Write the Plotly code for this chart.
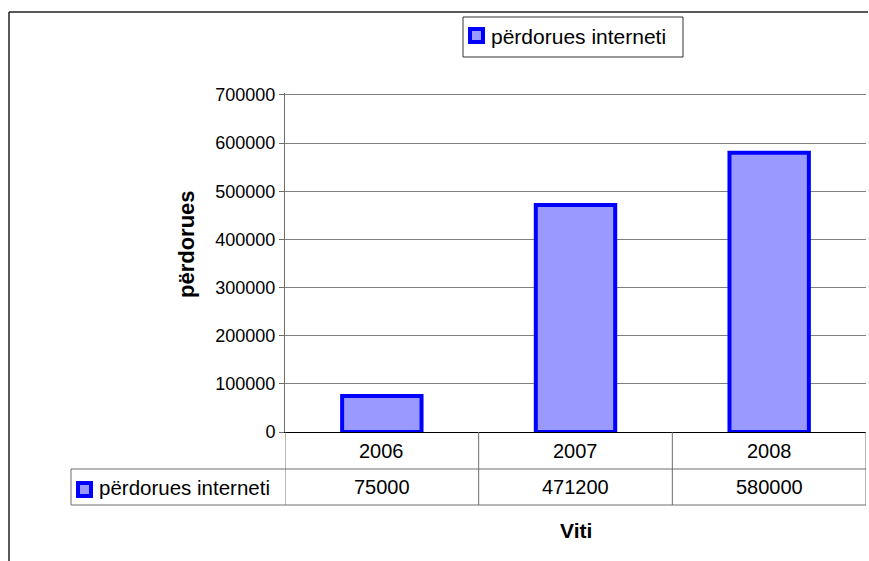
import plotly.graph_objects as go

years = ["2006", "2007", "2008"]
users = [75000, 471200, 580000]
series_name = "përdorues interneti"
y_title = "përdorues"
x_title = "Viti"
y_ticks = [0, 100000, 200000, 300000, 400000, 500000, 600000, 700000]

W, H = 869, 561
FONT = "Liberation Sans, Arial, sans-serif"
FILL = "#9999FF"
EDGE = "#0000FF"

def py(px):
    return 1 - px / H

def pxx(px):
    return px / W

fig = go.Figure()
fig.add_trace(go.Bar(
    x=years, y=users, name=series_name,
    marker=dict(color=FILL, line=dict(color=EDGE, width=4)),
    width=0.41, showlegend=False,
))

shapes = []
annotations = []

# outer frame (top and left lines)
shapes.append(dict(type="line", xref="paper", yref="paper", x0=pxx(9), x1=pxx(868), y0=py(12), y1=py(12),
                   line=dict(color="#222222", width=1.5)))
shapes.append(dict(type="line", xref="paper", yref="paper", x0=pxx(9), x1=pxx(9), y0=py(12), y1=0,
                   line=dict(color="#222222", width=1.5)))

# legend box (top)
shapes.append(dict(type="rect", xref="paper", yref="paper", x0=pxx(463), x1=pxx(683), y0=py(17), y1=py(57),
                   fillcolor="white", line=dict(color="#333333", width=1)))
shapes.append(dict(type="rect", xref="paper", yref="paper", x0=pxx(470), x1=pxx(483), y0=py(29), y1=py(42),
                   fillcolor=FILL, line=dict(color=EDGE, width=4)))
annotations.append(dict(x=pxx(489), xref="paper", y=py(37), yref="paper", text=series_name,
                        xanchor="left", yanchor="middle", showarrow=False,
                        font=dict(size=21, color="#000000", family=FONT)))

# data table
row_top = py(432)
row_mid = py(469)
row_bot = py(505)
grey = "#6e6e6e"
shapes.append(dict(type="line", xref="x", yref="paper", x0=-0.5, x1=-0.5, y0=row_top, y1=row_bot,
                   line=dict(color=grey, width=1)))
for i in range(len(years)):
    shapes.append(dict(type="line", xref="x", yref="paper", x0=i + 0.5, x1=i + 0.5, y0=row_top, y1=row_bot,
                       line=dict(color=grey, width=1)))
shapes.append(dict(type="line", xref="paper", yref="paper", x0=pxx(71), x1=pxx(866), y0=row_mid, y1=row_mid,
                   line=dict(color=grey, width=1)))
shapes.append(dict(type="line", xref="paper", yref="paper", x0=pxx(71), x1=pxx(866), y0=row_bot, y1=row_bot,
                   line=dict(color=grey, width=1)))
shapes.append(dict(type="line", xref="paper", yref="paper", x0=pxx(71), x1=pxx(71), y0=row_mid, y1=row_bot,
                   line=dict(color=grey, width=1)))

for i, (yr, v) in enumerate(zip(years, users)):
    annotations.append(dict(x=i, xref="x", y=(row_top + row_mid) / 2, yref="paper", text=yr,
                            xanchor="center", yanchor="middle",
                            showarrow=False, font=dict(size=20, color="#000000", family=FONT)))
    annotations.append(dict(x=i, xref="x", y=(row_mid + row_bot) / 2, yref="paper", text=str(v),
                            xanchor="center", yanchor="middle",
                            showarrow=False, font=dict(size=20, color="#000000", family=FONT)))

# table legend key
shapes.append(dict(type="rect", xref="paper", yref="paper", x0=pxx(78), x1=pxx(91), y0=py(483), y1=py(496),
                   fillcolor=FILL, line=dict(color=EDGE, width=4)))
annotations.append(dict(x=pxx(97), xref="paper", y=(row_mid + row_bot) / 2, yref="paper", text=series_name,
                        xanchor="left", yanchor="middle", showarrow=False,
                        font=dict(size=20.5, color="#000000", family=FONT)))

# axis titles
annotations.append(dict(x=pxx(186), xref="paper", y=py(244), yref="paper", text="<b>" + y_title + "</b>",
                        textangle=-90, xanchor="center", yanchor="middle", showarrow=False,
                        font=dict(size=22, color="#000000", family=FONT)))
annotations.append(dict(x=1, xref="x", y=py(530), yref="paper", text="<b>" + x_title + "</b>",
                        xanchor="center", yanchor="middle",
                        showarrow=False, font=dict(size=21, color="#000000", family=FONT)))

fig.update_layout(
    width=W, height=H,
    margin=dict(l=0, r=0, t=0, b=0, autoexpand=False),
    paper_bgcolor="white", plot_bgcolor="white",
    font=dict(family=FONT, size=18, color="#000000"),
    showlegend=False,
    xaxis=dict(domain=[pxx(285), pxx(866)], range=[-0.5, 2.5], showticklabels=False,
               showline=True, linecolor="#000000", linewidth=1, ticks="", showgrid=False,
               zeroline=False, automargin=False),
    yaxis=dict(domain=[py(432), py(93)], range=[0, 704000], tickvals=y_ticks,
               ticktext=[str(t) for t in y_ticks],
               showline=True, linecolor=grey, linewidth=1, ticks="outside", ticklen=5,
               tickcolor=grey, showgrid=True, gridcolor="#808080", gridwidth=1,
               zeroline=False, automargin=False, tickfont=dict(size=18, family=FONT)),
    shapes=shapes,
    annotations=annotations,
)

fig.write_html("out.html", config={"displayModeBar": False},
               post_script="document.body.style.margin='0';document.body.style.overflow='hidden';document.documentElement.style.overflow='hidden';")
